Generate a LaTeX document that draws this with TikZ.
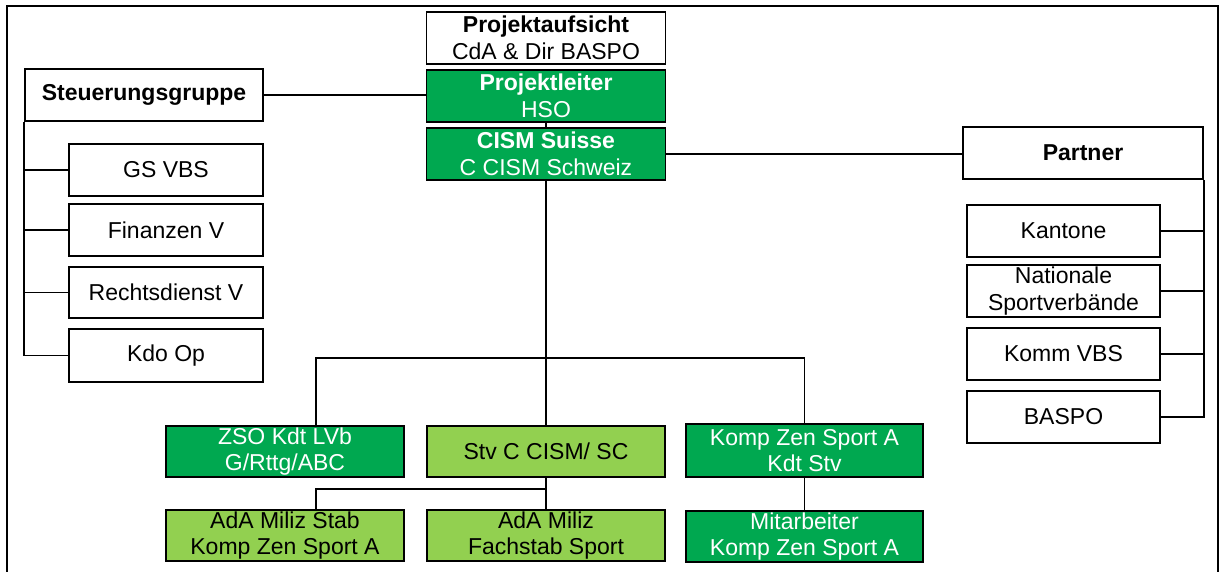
\documentclass[tikz,border=0pt]{standalone}
\usepackage{fontspec}
\setmainfont{Liberation Sans}
\definecolor{dgreen}{RGB}{0,168,80}
\definecolor{lgreen}{RGB}{146,208,80}
\begin{document}
\begin{tikzpicture}[x=1pt,y=-1pt,
  box/.style={draw=black, line width=1.6pt, rectangle, inner sep=0pt, align=center,
    font=\fontsize{23}{26.5}\selectfont, minimum height=52pt},
  wbox/.style={box, fill=white, text=black},
  dbox/.style={box, fill=dgreen, text=white},
  lbox/.style={box, fill=lgreen, text=black},
  conn/.style={draw=black, line width=1.6pt}]
\useasboundingbox (0,0) rectangle (1222,571);
\draw[line width=2.4pt] (7,600) -- (7,6) -- (1218,6) -- (1218,600);

% top column
\node[wbox, minimum width=239pt] (pa) at (546,38) {\textbf{Projektaufsicht}\\CdA \& Dir BASPO};
\node[dbox, minimum width=239pt] (pl) at (546,96) {\textbf{Projektleiter}\\HSO};
\node[dbox, minimum width=239pt] (cism) at (546,154) {\textbf{CISM Suisse}\\C CISM Schweiz};

% left group
\node[wbox, minimum width=238pt] (sg) at (144,95) {\textbf{Steuerungsgruppe}};
\node[wbox, minimum width=194pt] (gs) at (166,170) {GS VBS};
\node[wbox, minimum width=194pt] (fin) at (166,230) {Finanzen V};
\node[wbox, minimum width=194pt, minimum height=51pt] (rd) at (166,292.5) {Rechtsdienst V};
\node[wbox, minimum width=194pt, minimum height=53pt] (kdo) at (166,355.5) {Kdo Op};

% right group
\node[wbox, minimum width=240pt] (partner) at (1083,153) {\textbf{Partner}};
\node[wbox, minimum width=193pt] (kant) at (1063.5,231) {Kantone};
\node[wbox, minimum width=193pt] (nat) at (1063.5,291) {Nationale\\Sportverbände};
\node[wbox, minimum width=193pt] (komm) at (1063.5,354) {Komm VBS};
\node[wbox, minimum width=193pt] (baspo) at (1063.5,417) {BASPO};

% bottom
\node[dbox, minimum width=238pt, minimum height=51pt] (zso) at (285,451.5) {ZSO Kdt LVb\\G/Rttg/ABC};
\node[lbox, minimum width=238pt, minimum height=51pt] (stv) at (546,451.5) {Stv C CISM/ SC};
\node[dbox, minimum width=237pt, minimum height=53pt] (kzs) at (804.5,450.5) {Komp Zen Sport A\\Kdt Stv};
\node[lbox, minimum width=238pt, minimum height=51pt] (ada1) at (285,535.5) {AdA Miliz Stab\\Komp Zen Sport A};
\node[lbox, minimum width=238pt, minimum height=51pt] (ada2) at (546,535.5) {AdA Miliz\\Fachstab Sport};
\node[dbox, minimum width=237pt, minimum height=51pt] (mit) at (804.5,536.5) {Mitarbeiter\\Komp Zen Sport A};

% connectors top
\draw[conn] (sg.east) -- (sg.east -| pl.west);
\draw[conn] (pl.south) -- (cism.north);
\draw[conn] (cism.east) -- (cism.east -| partner.west);

% left bus
\draw[conn] (sg.south west) |- (kdo.west);
\draw[conn] (gs.west) -- (gs.west -| sg.west);
\draw[conn] (fin.west) -- (fin.west -| sg.west);
\draw[conn] (rd.west) -- (rd.west -| sg.west);

% right bus
\draw[conn] (partner.south east) |- (baspo.east);
\draw[conn] (kant.east) -- (kant.east -| partner.east);
\draw[conn] (nat.east) -- (nat.east -| partner.east);
\draw[conn] (komm.east) -- (komm.east -| partner.east);

% bottom tree
\coordinate (bl) at (316,358);
\coordinate (br) at (804.5,358);
\draw[conn] (cism.south) -- (stv.north);
\draw[conn] (bl |- zso.north) -- (bl) -- (br) -- (kzs.north);
\coordinate (b2) at (316,489);
\draw[conn] (stv.south) -- (ada2.north);
\draw[conn] (b2 |- ada1.north) -- (b2) -- (b2 -| stv.south);
\draw[conn] (kzs.south) -- (mit.north);
\end{tikzpicture}
\end{document}
